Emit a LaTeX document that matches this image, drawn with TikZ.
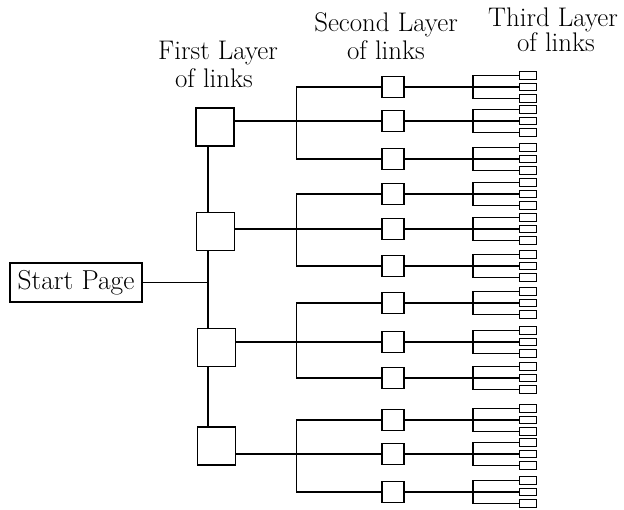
\documentclass[tikz,border=0pt]{standalone}
\usepackage{fontspec}
\begin{document}
\begin{tikzpicture}[x=1bp,y=-1bp,
  line width=1.3bp,
  lbl/.style={font=\fontsize{27}{30}\selectfont, inner sep=0pt, anchor=base},
  firstbox/.style={draw, minimum width=38bp, minimum height=38bp, inner sep=0pt},
  secondbox/.style={draw, minimum width=22bp, minimum height=21bp, inner sep=0pt},
  thirdbox/.style={draw, minimum width=17bp, minimum height=7.5bp, inner sep=0pt},
  startbox/.style={draw, minimum width=132bp, minimum height=39bp, inner sep=0pt, font=\fontsize{27.5}{30}\selectfont}]
\useasboundingbox (0,0) rectangle (624,510);

% labels
\node[lbl] (l1a) at (218,60) {First Layer};
\node[lbl] (l1b) at (214,88) {of links};
\node[lbl] (l2a) at (386,32) {Second Layer};
\node[lbl] (l2b) at (386,60) {of links};
\node[lbl] (l3a) at (553,27) {Third Layer};
\node[lbl] (l3b) at (556,52) {of links};

% start page
\node[startbox] (start) at (76,282.5) {Start Page};
\coordinate (tr) at (208,0);

% first layer
\node[firstbox] (f1) at (215,127) {};
\node[firstbox] (f2) at (215.5,231.5) {};
\node[firstbox] (f3) at (216.5,347.5) {};
\node[firstbox] (f4) at (216.5,446) {};

\draw (start.east) -- (start.east -| tr);
\draw (tr |- f1.south) -- (tr |- f2.north);
\draw (tr |- f2.south) -- (tr |- f3.north);
\draw (tr |- f3.south) -- (tr |- f4.north);

% second and third layers
\foreach \g/\ya/\yb/\yc in {1/87/121/159, 2/194/229/266, 3/303/342/378, 4/420/454/492}{
  \node[secondbox] (s\g a) at (393,\ya) {};
  \node[secondbox] (s\g b) at (393,\yb) {};
  \node[secondbox] (s\g c) at (393,\yc) {};
  \draw (f\g.east |- s\g b.west) -- (s\g b.west);
  \draw (s\g a.west) -- ++(-85,0) |- (s\g c.west);
  \foreach \k/\y in {a/\ya, b/\yb, c/\yc}{
    \node[thirdbox] (t\g\k1) at (528,\y-11.5) {};
    \node[thirdbox] (t\g\k2) at (528,\y) {};
    \node[thirdbox] (t\g\k3) at (528,\y+11.5) {};
    \draw (s\g\k.east) -- (t\g\k2.west);
    \draw (t\g\k1.west) -- ++(-46,0) |- (t\g\k3.west);
  }
}
\end{tikzpicture}
\end{document}
